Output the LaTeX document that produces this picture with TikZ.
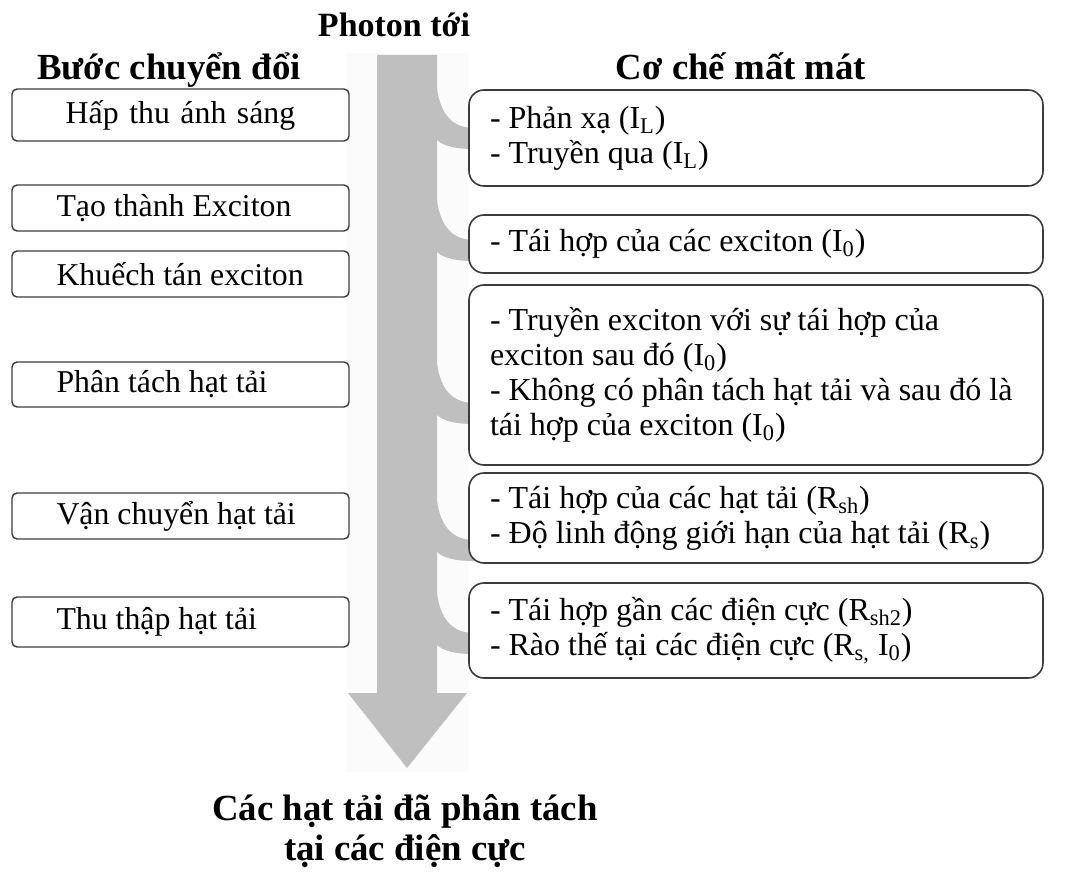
\documentclass[tikz,border=0pt]{standalone}
\usepackage{fontspec}
\setmainfont{Liberation Serif}
\usetikzlibrary{positioning,calc}
\definecolor{FlowGray}{RGB}{191,191,191}
\definecolor{PaleGray}{RGB}{251,251,251}
\definecolor{BoxLine}{RGB}{60,60,60}
\tikzset{
  head/.style={font=\fontsize{18.4}{20}\selectfont\bfseries,inner sep=0pt},
  stepbox/.style={draw=BoxLine,fill=white,rounded corners=2.5pt,line width=0.7pt,
    minimum width=168.5pt,inner sep=0pt,text width=124pt,align=flush left,
    font=\fontsize{15.9}{17.5}\selectfont},
  lossbox/.style={draw=BoxLine,fill=white,rounded corners=7.5pt,line width=0.8pt,
    text width=266pt,inner xsep=10.5pt,inner ysep=0pt,align=flush left,
    font=\fontsize{16}{17.5}\selectfont},
}

\begin{document}
\begin{tikzpicture}[x=0.5pt,y=-0.5pt]
  \useasboundingbox (0,0) rectangle (1078,872);
  % faint backdrop and main flow arrow
  \fill[PaleGray] (347,53) rectangle (468,772);
  \coordinate (sl) at (377,55);
  \coordinate (sr) at (437,55);
  \fill[FlowGray] (sl) -- (sr) -- (437,693) -- (467,693) -- (407,768)
    -- (348,693) -- (377,693) -- cycle;
  % side branches into the loss boxes
  \foreach \y in {128,240,403,540,633}
    \fill[FlowGray] (436,{\y-52}) .. controls (437,{\y-20}) and (448,\y) .. (474,\y)
      -- (474,{\y+21}) .. controls (452,{\y+21}) and (442,{\y+17}) .. (436,{\y+11}) -- cycle;

  \node[head,font=\fontsize{17}{19}\selectfont\bfseries,anchor=base] (photon) at (394,37) {Photon tới};
  \node[head,anchor=base] (steps) at (169,80) {Bước chuyển đổi};
  \node[head,anchor=base] (losses) at (741,80) {Cơ chế mất mát};

  \node[stepbox,align=center,minimum height=26pt] (l1) at (180.5,115) {Hấp thu ánh sáng};
  \node[stepbox,minimum height=23pt] (l2) at (180.5,208) {Tạo thành Exciton};
  \node[stepbox,minimum height=23pt] (l3) at (180.5,274) {Khuếch tán exciton};
  \node[stepbox,minimum height=22.5pt] (l4) at (180.5,384.5) {Phân tách hạt tải};
  \node[stepbox,minimum height=23pt] (l5) at (180.5,516) {Vận chuyển hạt tải};
  \node[stepbox,minimum height=25pt] (l6) at (180.5,622) {Thu thập hạt tải};

  \node[lossbox,minimum height=48pt] (r1) at (756,138)
    {- Phản xạ (I\textsubscript{L})\\- Truyền qua (I\textsubscript{L})};
  \node[lossbox,minimum height=29pt] (r2) at (756,244)
    {- Tái hợp của các exciton (I\textsubscript{0})};
  \node[lossbox,minimum height=90pt] (r3) at (756,375)
    {- Truyền exciton với sự tái hợp của\\exciton sau đó (I\textsubscript{0})\\
     - Không có phân tách hạt tải và sau đó là\\tái hợp của exciton (I\textsubscript{0})};
  \node[lossbox,minimum height=45pt] (r4) at (756,518)
    {- Tái hợp của các hạt tải (R\textsubscript{sh})\\- Độ linh động giới hạn của hạt tải (R\textsubscript{s})};
  \node[lossbox,minimum height=47.5pt] (r5) at (756,630.5)
    {- Tái hợp gần các điện cực (R\textsubscript{sh2})\\- Rào thế tại các điện cực (R\textsubscript{s,} I\textsubscript{0})};

  \node[head,align=center,anchor=north] (out) at (405,794)
    {Các hạt tải đã phân tách\\[0pt]tại các điện cực};
\end{tikzpicture}
\end{document}
